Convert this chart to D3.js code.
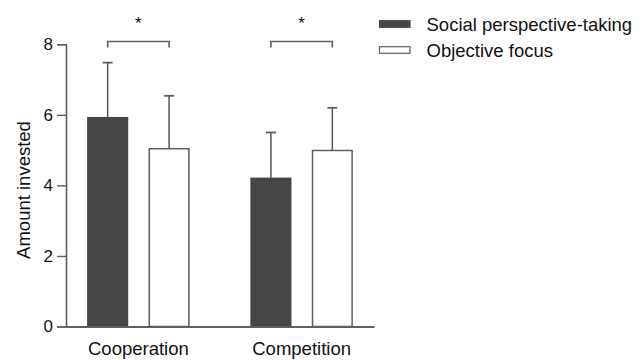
<!DOCTYPE html>
<html><head><meta charset="utf-8">
<script src="https://cdn.jsdelivr.net/npm/d3@7"></script>
<style>body{margin:0;background:#fff}svg{display:block}text{font-family:"Liberation Sans",Arial,sans-serif;fill:#111}</style>
</head><body><svg id="c" width="643" height="360"></svg>
<script>
const categories = ["Cooperation", "Competition"];
const seriesNames = ["Social perspective-taking", "Objective focus"];
const means = [[5.92, 5.04], [4.20, 4.99]];
const upperErr = [[7.48, 6.54], [5.50, 6.20]];
const yTicks = [0, 2, 4, 6, 8];
const yLabel = "Amount invested";
const sigLabels = ["*", "*"];

const svg = d3.select("#c");
const x0 = d3.scaleBand().domain(categories).range([66, 374]).paddingInner(0.375).paddingOuter(0.131);
const x1 = d3.scaleBand().domain(seriesNames).range([0, x0.bandwidth()]).paddingInner(0.339);
const y = d3.scaleLinear().domain([0, 8]).range([326.5, 44.3]);
const fills = ["#474546", "#ffffff"];
const gray = "#5e5e5e";

// bars
const g = svg.selectAll("g.grp").data(categories).join("g").attr("transform", c => `translate(${x0(c)},0)`);
g.each(function(c, ci) {
  const gg = d3.select(this);
  seriesNames.forEach((s, si) => {
    const bx = x1(s), bw = x1.bandwidth(), cx = bx + bw / 2;
    gg.append("line").attr("x1", cx).attr("x2", cx).attr("y1", y(means[ci][si])).attr("y2", y(upperErr[ci][si]))
      .attr("stroke", gray).attr("stroke-width", 1.6);
    gg.append("line").attr("x1", cx - 5).attr("x2", cx + 5).attr("y1", y(upperErr[ci][si])).attr("y2", y(upperErr[ci][si]))
      .attr("stroke", gray).attr("stroke-width", 1.8);
    gg.append("rect").attr("x", bx + 0.5).attr("width", bw - 1).attr("y", y(means[ci][si])).attr("height", y(0) - y(means[ci][si]))
      .attr("fill", fills[si]).attr("stroke", si === 0 ? "#474546" : gray).attr("stroke-width", 1.5);
  });
  // significance bracket
  const a = x1(seriesNames[0]) + x1.bandwidth() / 2, b = x1(seriesNames[1]) + x1.bandwidth() / 2;
  gg.append("path").attr("d", `M${a},47.5V41.5H${b}V47.5`).attr("fill", "none").attr("stroke", gray).attr("stroke-width", 1.6);
  gg.append("text").attr("x", (a + b) / 2).attr("y", 28.5).attr("text-anchor", "middle").attr("font-size", 17).text(sigLabels[ci]);
});

// y axis
const ya = svg.append("g").attr("transform", "translate(66,0)")
  .call(d3.axisLeft(y).tickValues(yTicks).tickSize(9).tickPadding(4).tickFormat(d3.format("d")));
ya.select(".domain").attr("stroke", gray).attr("stroke-width", 1.6);
ya.selectAll(".tick line").attr("stroke", gray).attr("stroke-width", 1.4);
ya.selectAll(".tick text").attr("font-size", 17).attr("fill", "#111").attr("font-family", "Liberation Sans, Arial, sans-serif");

// x axis
const xa = svg.append("g").attr("transform", `translate(0,${y(0)})`).call(d3.axisBottom(x0).tickSize(0).tickPadding(15));
xa.select(".domain").attr("stroke", gray).attr("stroke-width", 1.8);
xa.selectAll(".tick text").attr("font-size", 18.5).attr("fill", "#111").attr("font-family", "Liberation Sans, Arial, sans-serif");

svg.append("text").attr("transform", "translate(30,190) rotate(-90)").attr("text-anchor", "middle").attr("font-size", 18.5).text(yLabel);

// legend
const lg = svg.append("g").attr("transform", "translate(379,0)");
seriesNames.forEach((s, i) => {
  const cy = 24 + i * 26;
  lg.append("rect").attr("x", 0.5).attr("y", cy - 3.3).attr("width", 30.5).attr("height", 6.6)
    .attr("fill", fills[i]).attr("stroke", i === 0 ? "#474546" : gray).attr("stroke-width", 1.2);
  lg.append("text").attr("x", 47.5).attr("y", cy + 6.6).attr("font-size", 18.5).text(s);
});
</script></body></html>
